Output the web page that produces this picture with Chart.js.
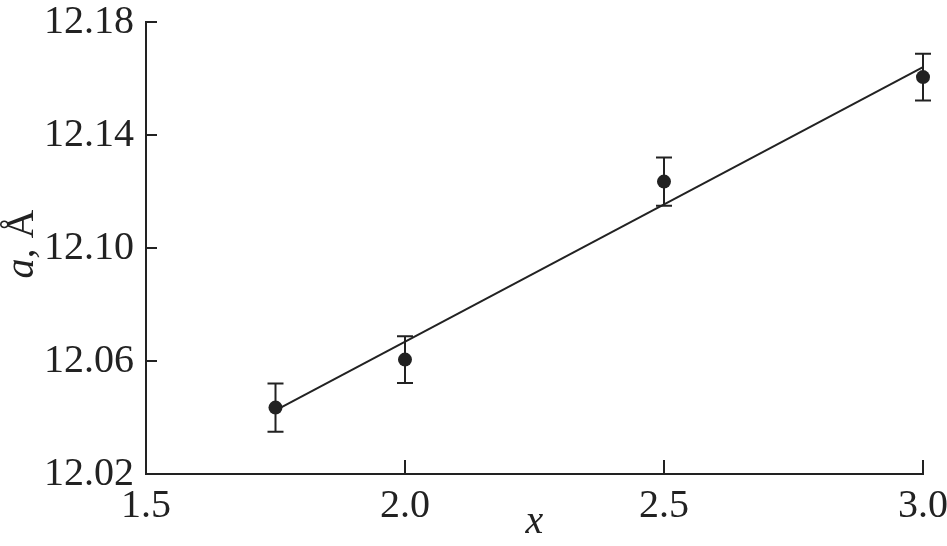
<!DOCTYPE html>
<html><head><meta charset="utf-8">
<script src="https://cdn.jsdelivr.net/npm/chart.js@4/dist/chart.umd.min.js"></script>
<style>html,body{margin:0;padding:0;background:#fff}#wrap{width:947px;height:546px}</style>
</head><body><div id="wrap"><canvas id="c" width="947" height="546"></canvas></div>
<script>
const xValues = [1.75, 2.0, 2.5, 3.0];
const aValues = [12.0435, 12.0605, 12.1235, 12.1605];
const aErrors = [0.0085, 0.0083, 0.0085, 0.0083];
const fitX = [1.75, 3.0];
const fitY = [12.0425, 12.164];
const xTicks = [1.5, 2.0, 2.5, 3.0];
const yTicks = [12.02, 12.06, 12.10, 12.14, 12.18];
const xTitle = 'x';
const yTitleItalic = 'a,';
const yTitleNormal = ' Å';

const ink = '#222';
const FONT = '"Liberation Serif", "Times New Roman", serif';

const errorBars = {
  id: 'errorBars',
  afterDatasetsDraw(chart) {
    const {ctx, scales: {x, y}} = chart;
    ctx.save();
    ctx.strokeStyle = ink; ctx.lineWidth = 2;
    xValues.forEach((xv, i) => {
      const px = x.getPixelForValue(xv);
      const top = y.getPixelForValue(aValues[i] + aErrors[i]);
      const bot = y.getPixelForValue(aValues[i] - aErrors[i]);
      ctx.beginPath();
      ctx.moveTo(px, top); ctx.lineTo(px, bot);
      ctx.moveTo(px - 8, top); ctx.lineTo(px + 8, top);
      ctx.moveTo(px - 8, bot); ctx.lineTo(px + 8, bot);
      ctx.stroke();
    });
    ctx.restore();
  }
};

const innerTicks = {
  id: 'innerTicks',
  afterDraw(chart) {
    const {ctx, scales: {x, y}, chartArea} = chart;
    ctx.save();
    ctx.strokeStyle = ink; ctx.lineWidth = 2;
    ctx.beginPath();
    yTicks.forEach(v => {
      const py = Math.round(y.getPixelForValue(v));
      ctx.moveTo(chartArea.left, py); ctx.lineTo(chartArea.left + 11, py);
    });
    xTicks.forEach(v => {
      const px = Math.round(x.getPixelForValue(v));
      ctx.moveTo(px, chartArea.bottom); ctx.lineTo(px, chartArea.bottom - 14);
    });
    ctx.stroke();
    ctx.fillStyle = ink;
    ctx.translate(22, (chartArea.top + chartArea.bottom) / 2 - 4);
    ctx.rotate(-Math.PI / 2);
    ctx.textBaseline = 'middle';
    ctx.font = 'italic 40px ' + FONT;
    const w1 = ctx.measureText(yTitleItalic).width;
    ctx.font = '40px ' + FONT;
    const w2 = ctx.measureText(yTitleNormal).width;
    const start = -(w1 + w2) / 2;
    ctx.textAlign = 'left';
    ctx.font = 'italic 40px ' + FONT;
    ctx.fillText(yTitleItalic, start, 0);
    ctx.font = '40px ' + FONT;
    ctx.fillText(yTitleNormal, start + w1, 0);
    ctx.restore();
  }
};

function draw() {
  new Chart(document.getElementById('c'), {
    type: 'scatter',
    data: {
      datasets: [
        {
          type: 'line',
          data: fitX.map((v, i) => ({x: v, y: fitY[i]})),
          borderColor: ink, borderWidth: 2, pointRadius: 0, fill: false, tension: 0, clip: false
        },
        {
          data: xValues.map((v, i) => ({x: v, y: aValues[i]})),
          backgroundColor: ink, borderColor: ink, pointRadius: 7, pointBorderWidth: 0, clip: false
        }
      ]
    },
    options: {
      responsive: false,
      animation: false,
      layout: {padding: {top: 22, right: 24, left: 0, bottom: 0}},
      plugins: {legend: {display: false}, tooltip: {enabled: false}},
      scales: {
        x: {
          type: 'linear', min: 1.5, max: 3.0,
          afterBuildTicks: s => { s.ticks = xTicks.map(v => ({value: v})); },
          afterFit: s => { s.height = 72; s.paddingLeft = 0; s.paddingRight = 0; },
          grid: {display: false, drawTicks: false},
          border: {display: true, color: ink, width: 2},
          ticks: {color: ink, font: {family: FONT, size: 40}, padding: 8, maxRotation: 0,
            callback: v => Number(v).toFixed(1)},
          title: {display: true, text: xTitle, color: ink, font: {family: FONT, size: 40, style: 'italic'}, padding: {top: -14, bottom: 0}}
        },
        y: {
          type: 'linear', min: 12.02, max: 12.18,
          afterBuildTicks: s => { s.ticks = yTicks.map(v => ({value: v})); },
          afterFit: s => { s.width = 146; s.paddingTop = 0; s.paddingBottom = 0; },
          grid: {display: false, drawTicks: false},
          border: {display: true, color: ink, width: 2},
          ticks: {color: ink, font: {family: FONT, size: 40}, padding: 12,
            callback: v => Number(v).toFixed(2)}
        }
      }
    },
    plugins: [errorBars, innerTicks]
  });
}

const fl = [
  document.fonts.load('40px "Liberation Serif"'),
  document.fonts.load('italic 40px "Liberation Serif"')
];
Promise.all(fl).then(draw, draw);
</script></body></html>
